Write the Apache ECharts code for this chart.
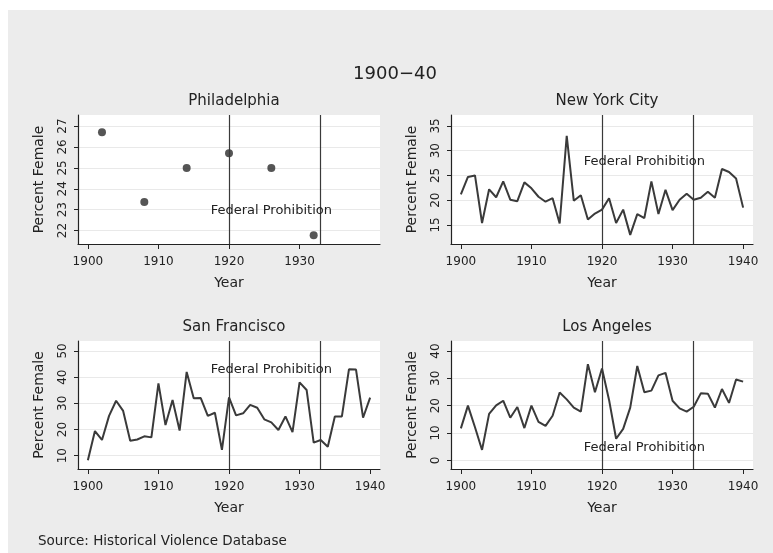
<!DOCTYPE html>
<html><head><meta charset="utf-8">
<script src="https://cdn.jsdelivr.net/npm/echarts@6/dist/echarts.min.js"></script>
<style>html,body{margin:0;padding:0;background:#fff}#c{width:773px;height:553px}</style>
</head><body><div id="c"></div>
<script>
const years = [1900,1901,1902,1903,1904,1905,1906,1907,1908,1909,1910,1911,1912,1913,1914,1915,1916,1917,1918,1919,1920,1921,1922,1923,1924,1925,1926,1927,1928,1929,1930,1931,1932,1933,1934,1935,1936,1937,1938,1939,1940];
const nycValues = [21.2,24.7,25.0,15.4,22.2,20.6,23.8,20.1,19.8,23.6,22.4,20.7,19.7,20.4,15.3,33.0,19.9,21.0,16.1,17.3,18.1,20.4,15.4,18.1,13.0,17.2,16.4,23.8,17.2,22.1,18.0,20.1,21.3,20.1,20.5,21.7,20.5,26.3,25.7,24.4,18.5];
const sfValues = [8.3,19.4,16.0,25.2,31.0,27.1,15.7,16.2,17.4,17.0,37.6,21.7,31.3,19.6,42.0,31.9,32.0,25.2,26.4,12.2,32.3,25.4,26.2,29.4,28.3,23.9,22.7,19.8,25.0,19.0,38.0,35.1,15.0,16.0,13.4,25.0,25.0,43.0,42.9,24.5,32.2];
const laValues = [11.7,20.0,12.1,3.8,17.0,20.1,21.8,15.6,19.5,11.8,20.0,14.1,12.6,16.3,24.8,22.3,19.3,17.8,35.2,24.9,33.6,22.1,7.9,11.5,19.3,34.5,24.9,25.5,31.1,32.0,21.8,19.0,17.8,19.6,24.5,24.4,19.3,26.1,21.0,29.6,28.8];
const phlYears = [1902,1908,1914,1920,1926,1932];
const phlValues = [26.7,23.37,25.0,25.7,25.0,21.78];
const prohibitionYears = [1920,1933];
const xTicksFull = [1900,1910,1920,1930,1940];
const xTicksPhl = [1900,1910,1920,1930];
const yTicksPhl = [22,23,24,25,26,27];
const yTicksNyc = [15,20,25,30,35];
const yTicksSf = [10,20,30,40,50];
const yTicksLa = [0,10,20,30,40];
const noteText = 'Federal Prohibition';

const FONT = 'DejaVu Sans';
const INK = '#222';
const panels = [
  {name:'Philadelphia', grid:{left:78,top:115,width:302,height:129}, yr:[21.36,27.53], yTicks:yTicksPhl, xTicks:xTicksPhl, kind:'scatter', xs:phlYears, vs:phlValues, note:[1917.4,22.95]},
  {name:'New York City', grid:{left:451,top:115,width:302,height:129}, yr:[11.16,37.2], yTicks:yTicksNyc, xTicks:xTicksFull, kind:'line', xs:years, vs:nycValues, note:[1917.4,27.8]},
  {name:'San Francisco', grid:{left:78,top:341,width:302,height:128}, yr:[4.92,53.8], yTicks:yTicksSf, xTicks:xTicksFull, kind:'line', xs:years, vs:sfValues, note:[1917.4,43.0]},
  {name:'Los Angeles', grid:{left:451,top:341,width:302,height:128}, yr:[-3.18,43.66], yTicks:yTicksLa, xTicks:xTicksFull, kind:'line', xs:years, vs:laValues, note:[1917.4,4.76]}
];

const plain = v => String(v);
const option = {
  animation:false,
  textStyle:{fontFamily:FONT},
  graphic:[{type:'rect', shape:{x:8,y:10,width:765,height:543}, style:{fill:'#ececec'}, z:-10}],
  title:[
    {text:'1900\u221240', left:390, top:60, textAlign:'center', textStyle:{fontFamily:FONT,fontSize:18,fontWeight:'normal',color:INK}},
    {text:'Source: Historical Violence Database', left:33, top:529, textStyle:{fontFamily:FONT,fontSize:13.5,fontWeight:'normal',color:INK}}
  ],
  grid:[], xAxis:[], yAxis:[], series:[]
};

panels.forEach((p,i)=>{
  option.title.push({text:p.name, left:p.grid.left+p.grid.width/2, top:p.grid.top-26, textAlign:'center',
    textStyle:{fontFamily:FONT,fontSize:15,fontWeight:'normal',color:INK}});
  option.grid.push(Object.assign({show:true, backgroundColor:'#fff', borderWidth:0, containLabel:false}, p.grid));
  option.xAxis.push({gridIndex:i, type:'value', min:1898.6, max:1941.4,
    name:'Year', nameLocation:'middle', nameGap:32, nameTextStyle:{fontFamily:FONT,fontSize:14,color:INK},
    axisLine:{onZero:false, lineStyle:{color:INK,width:1.2}},
    axisTick:{customValues:p.xTicks, length:5, lineStyle:{color:INK}},
    axisLabel:{customValues:p.xTicks, formatter:plain, margin:12, fontSize:12, color:INK, fontFamily:FONT},
    splitLine:{show:false}});
  option.yAxis.push({gridIndex:i, type:'value', min:p.yr[0], max:p.yr[1],
    name:'Percent Female', nameLocation:'middle', nameGap:32, nameTextStyle:{fontFamily:FONT,fontSize:14,color:INK},
    axisLine:{show:true, onZero:false, lineStyle:{color:INK,width:1.2}},
    axisTick:{show:true, customValues:p.yTicks, length:4, lineStyle:{color:INK}},
    axisLabel:{customValues:p.yTicks, formatter:plain, rotate:90, margin:9, fontSize:12, color:INK, fontFamily:FONT},
    splitLine:{show:true, lineStyle:{color:'#e9e9e9', width:1}}});
  const data = p.xs.map((x,k)=>[x,p.vs[k]]);
  const s = {type:p.kind, xAxisIndex:i, yAxisIndex:i, data:data, silent:true, z:3,
    markLine:{silent:true, symbol:'none', label:{show:false}, lineStyle:{color:'#3a3a3a', width:1.2, type:'solid'},
      data:prohibitionYears.map(y=>({xAxis:y}))},
    markPoint:{silent:true, symbol:'circle', symbolSize:0,
      label:{show:true, position:'right', distance:0, formatter:noteText, fontFamily:FONT, fontSize:13, color:INK},
      data:[{coord:p.note, value:0}]}
  };
  if(p.kind==='scatter'){
    s.symbol='circle'; s.symbolSize=8; s.itemStyle={color:'#2a2a2a'};
  } else {
    s.showSymbol=false; s.symbol='none'; s.lineStyle={color:'#3a3a3a', width:2};
  }
  option.series.push(s);
});

echarts.init(document.getElementById('c'),null,{renderer:'canvas'}).setOption(option);
</script></body></html>
